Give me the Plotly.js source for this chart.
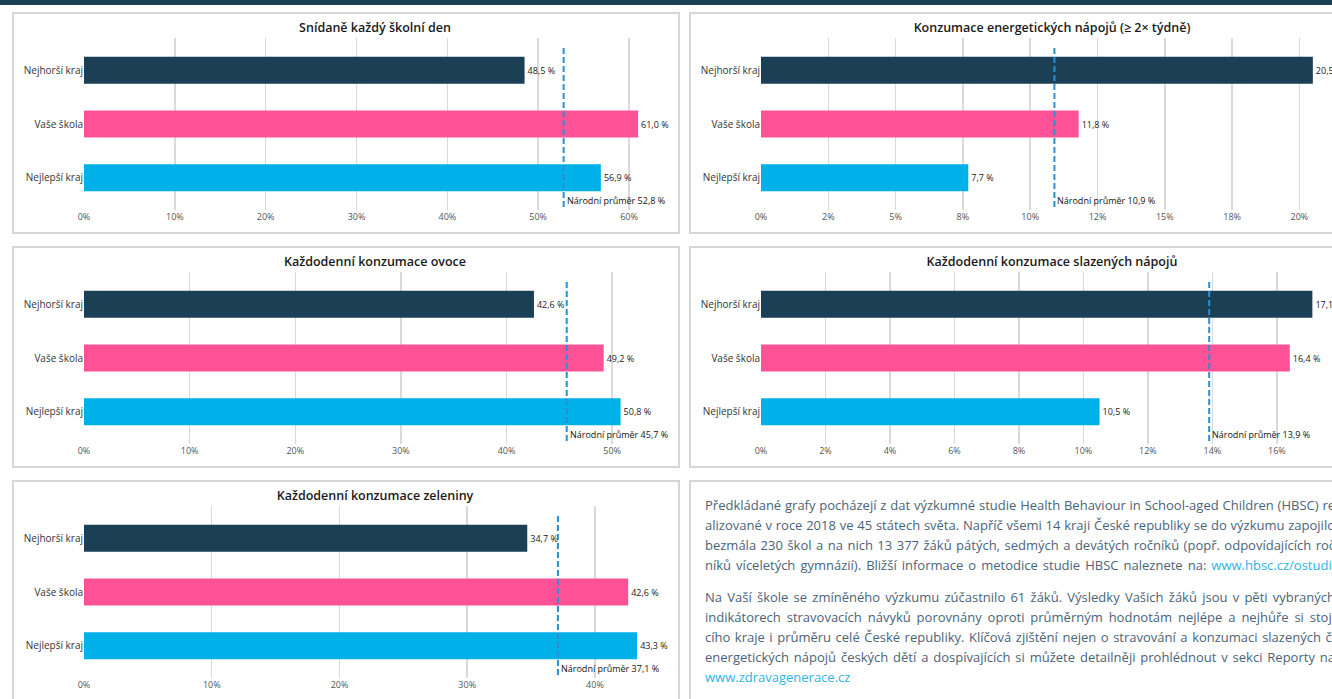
<!DOCTYPE html>
<html lang="cs">
<head>
<meta charset="utf-8">
<script src="https://cdn.plot.ly/plotly-3.0.1.min.js"></script>
<style>
  html, body { margin:0; padding:0; background:#ffffff; overflow:hidden; width:1332px; height:699px; }
  .band { position:absolute; left:0; top:0; width:1400px; height:5px; background:#1b3f55; }
  .panel { position:absolute; width:668px; height:222px; border:2px solid #d6d6d6; box-sizing:border-box; background:#fff; }
  .chart { position:absolute; left:0; top:0; width:664px; height:218px; }
  .textpanel { font-family:'Open Sans', sans-serif; font-size:13px; color:#4a6479; }
  .textpanel .para { margin:0; position:absolute; left:14px; line-height:20px; }
  .textpanel .ln { width:630px; text-align:justify; text-align-last:justify; white-space:normal; }
  .textpanel .ln.last { text-align:left; text-align-last:left; }
  .textpanel a { color:#2bb5e8; text-decoration:none; }
</style>
</head>
<body>
<div class="band"></div>
<div class="panel" style="left:12px;top:12px;"><div id="c1" class="chart"></div></div>
<div class="panel" style="left:689px;top:12px;"><div id="c2" class="chart"></div></div>
<div class="panel" style="left:12px;top:246px;"><div id="c3" class="chart"></div></div>
<div class="panel" style="left:689px;top:246px;"><div id="c4" class="chart"></div></div>
<div class="panel" style="left:12px;top:480px;"><div id="c5" class="chart"></div></div>
<div class="panel textpanel" style="left:689px;top:480px;">
  <div class="para" style="top:13px;">
    <div class="ln">Předkládané grafy pocházejí z dat výzkumné studie Health Behaviour in School-aged Children (HBSC) re</div>
    <div class="ln">alizované v roce 2018 ve 45 státech světa. Napříč všemi 14 kraji České republiky se do výzkumu zapojilo</div>
    <div class="ln">bezmála 230 škol a na nich 13 377 žáků pátých, sedmých a devátých ročníků (popř. odpovídajících roč</div>
    <div class="ln">níků víceletých gymnázií). Bližší informace o metodice studie HBSC naleznete na: <a>www.hbsc.cz/ostudii</a></div>
  </div>
  <div class="para" style="top:105px;">
    <div class="ln">Na Vaší škole se zmíněného výzkumu zúčastnilo 61 žáků. Výsledky Vašich žáků jsou v pěti vybraných</div>
    <div class="ln">indikátorech stravovacích návyků porovnány oproti průměrným hodnotám nejlépe a nejhůře si stojí</div>
    <div class="ln">cího kraje i průměru celé České republiky. Klíčová zjištění nejen o stravování a konzumaci slazených či</div>
    <div class="ln">energetických nápojů českých dětí a dospívajících si můžete detailněji prohlédnout v sekci Reporty na</div>
    <div class="ln last"><a>www.zdravagenerace.cz</a></div>
  </div>
</div>
<script>
// ---- data ----
const categories = ['Nejhorší kraj', 'Vaše škola', 'Nejlepší kraj'];
const barColors = ['#1b3f55', '#ff5296', '#00b1e9'];

const chartTitles = [
  'Snídaně každý školní den',
  'Konzumace energetických nápojů (≥ 2× týdně)',
  'Každodenní konzumace ovoce',
  'Každodenní konzumace slazených nápojů',
  'Každodenní konzumace zeleniny'
];

const breakfast  = [48.5, 61.0, 56.9];
const energy     = [20.5, 11.8, 7.7];
const fruit      = [42.6, 49.2, 50.8];
const sugary     = [17.1, 16.4, 10.5];
const vegetables = [34.7, 42.6, 43.3];

const nationalAverages = [52.8, 10.9, 45.7, 13.9, 37.1];
const nationalLabel = 'Národní průměr';

const breakfastTickVals = [0, 10, 20, 30, 40, 50, 60];
const breakfastTickText = ['0%', '10%', '20%', '30%', '40%', '50%', '60%'];
const energyTickVals = [0, 2.5, 5, 7.5, 10, 12.5, 15, 17.5, 20];
const energyTickText = ['0%', '2%', '5%', '8%', '10%', '12%', '15%', '18%', '20%'];
const fruitTickVals = [0, 10, 20, 30, 40, 50];
const fruitTickText = ['0%', '10%', '20%', '30%', '40%', '50%'];
const sugaryTickVals = [0, 2, 4, 6, 8, 10, 12, 14, 16];
const sugaryTickText = ['0%', '2%', '4%', '6%', '8%', '10%', '12%', '14%', '16%'];
const vegTickVals = [0, 10, 20, 30, 40];
const vegTickText = ['0%', '10%', '20%', '30%', '40%'];

// ---- charts ----
const charts = [
  { id: 'c1', values: breakfast,  tv: breakfastTickVals, tt: breakfastTickText, xmax: 64.07 },
  { id: 'c2', values: energy,     tv: energyTickVals,    tt: energyTickText,    xmax: 21.62 },
  { id: 'c3', values: fruit,      tv: fruitTickVals,     tt: fruitTickText,     xmax: 55.1 },
  { id: 'c4', values: sugary,     tv: sugaryTickVals,    tt: sugaryTickText,    xmax: 18.05 },
  { id: 'c5', values: vegetables, tv: vegTickVals,       tt: vegTickText,       xmax: 45.56 }
];

const FONT = "'Open Sans', 'Noto Sans', sans-serif";

charts.forEach(function (c, i) {
  const avg = nationalAverages[i];
  const trace = {
    type: 'bar',
    orientation: 'h',
    x: c.values,
    y: categories,
    width: 0.5,
    marker: { color: barColors, line: { width: 0 } },
    texttemplate: '%{x:.1f} %',
    textposition: 'outside',
    textfont: { family: FONT, size: 9, color: '#222222' },
    constraintext: 'none',
    cliponaxis: false,
    hoverinfo: 'skip'
  };
  const layout = {
    width: 664,
    height: 218,
    margin: { l: 70, r: 12, t: 24, b: 22, pad: 0 },
    paper_bgcolor: '#ffffff',
    plot_bgcolor: '#ffffff',
    separators: ', ',
    font: { family: FONT, color: '#333333' },
    showlegend: false,
    title: {
      text: chartTitles[i],
      font: { family: FONT, size: 12.5, color: '#1a1a1a', weight: 600 },
      x: 0.5, xref: 'paper', xanchor: 'center',
      y: 1 - 14 / 218, yref: 'container', yanchor: 'middle'
    },
    xaxis: {
      range: [0, c.xmax],
      tickmode: 'array',
      tickvals: c.tv,
      ticktext: c.tt,
      showgrid: true,
      gridcolor: '#dadada',
      gridwidth: 1.5,
      zeroline: false,
      showline: false,
      ticks: '',
      tickfont: { family: FONT, size: 9, color: '#555555' },
      fixedrange: true
    },
    yaxis: {
      type: 'category',
      categoryorder: 'array',
      categoryarray: categories,
      range: [2.6, -0.6],
      showgrid: false,
      zeroline: false,
      showline: false,
      ticks: '',
      tickfont: { family: FONT, size: 10, color: '#333333' },
      fixedrange: true
    },
    shapes: [{
      type: 'line', xref: 'x', yref: 'paper', layer: 'above',
      x0: avg, x1: avg, y0: 0.017, y1: 0.959,
      line: { color: '#2b8fd0', width: 2, dash: '6px,3px' }
    }],
    annotations: [{
      xref: 'x', yref: 'paper', x: avg, y: 0.058,
      xanchor: 'left', yanchor: 'middle', xshift: 1,
      showarrow: false,
      text: nationalLabel + ' ' + avg.toFixed(1).replace('.', ',') + ' %',
      font: { family: FONT, size: 9, color: '#111111' }
    }]
  };
  Plotly.newPlot(c.id, [trace], layout, { displayModeBar: false, staticPlot: true });
});
</script>
</body>
</html>
